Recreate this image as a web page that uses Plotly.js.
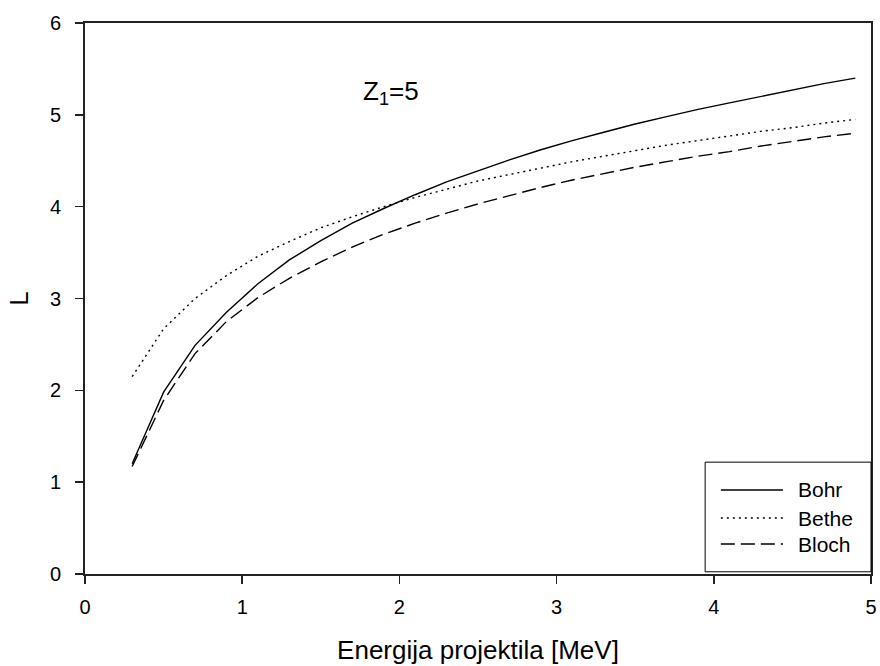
<!DOCTYPE html>
<html>
<head>
<meta charset="utf-8">
<script src="https://cdn.plot.ly/plotly-3.0.1.min.js"></script>
<style>html,body{margin:0;padding:0;background:#fff;}#chart{width:880px;height:666px;}</style>
</head>
<body>
<div id="chart"></div>
<script>
const energy = [0.3,0.5,0.7,0.9,1.1,1.3,1.5,1.7,1.9,2.1,2.3,2.5,2.7,2.9,3.1,3.3,3.5,3.7,3.9,4.1,4.3,4.5,4.7,4.9];
const bohr  = [1.20,1.98,2.49,2.85,3.16,3.42,3.63,3.82,3.98,4.13,4.27,4.39,4.51,4.62,4.72,4.81,4.90,4.98,5.06,5.13,5.20,5.27,5.34,5.40];
const bethe = [2.15,2.67,3.00,3.25,3.46,3.62,3.77,3.89,4.00,4.10,4.19,4.28,4.35,4.42,4.49,4.55,4.61,4.67,4.72,4.77,4.82,4.86,4.91,4.95];
const bloch = [1.17,1.89,2.40,2.75,3.01,3.22,3.40,3.56,3.70,3.82,3.93,4.03,4.12,4.21,4.29,4.36,4.43,4.49,4.55,4.60,4.66,4.71,4.76,4.80];
const seriesNames = ['Bohr','Bethe','Bloch'];
const dashes = ['solid','2px,4px','14px,6px'];
const xTicks = [0,1,2,3,4,5];
const yTicks = [0,1,2,3,4,5,6];

const fam = 'Liberation Sans, Arial, sans-serif';
const tickFont = {family:fam, size:20, color:'#000'};
const ys = [bohr, bethe, bloch];
const traces = ys.map((y,i)=>({
  x: energy, y: y, type:'scatter', mode:'lines', name: seriesNames[i],
  line:{color:'#000', width:1.4, dash:dashes[i]}, showlegend:false
}));

// custom legend (paper coords)
const shapes = [{type:'rect', xref:'paper', yref:'paper', x0:0.789, x1:1, y0:0.004, y1:0.203,
  line:{color:'#000', width:1}, fillcolor:'#fff', layer:'above'}];
const annotations = [{
  xref:'x', yref:'y', x:1.945, y:5.24, text:'Z<sub>1</sub>=5', showarrow:false,
  font:{family:fam, size:26, color:'#000'}
}];
const legY = [0.1525, 0.1016, 0.0544];
seriesNames.forEach((n,i)=>{
  shapes.push({type:'line', xref:'paper', yref:'paper', x0:0.809, x1:0.888, y0:legY[i], y1:legY[i],
    line:{color:'#000', width:1.4, dash:dashes[i]}, layer:'above'});
  annotations.push({xref:'paper', yref:'paper', x:0.905, y:legY[i], xanchor:'left', yanchor:'middle',
    text:n, showarrow:false, font:{family:fam, size:21, color:'#000'}});
});

const axisCommon = {showgrid:false, zeroline:false, showline:true, mirror:true, linecolor:'#222', linewidth:1.8,
  ticks:'outside', ticklen:8, tickwidth:1.5, tickcolor:'#222', tickfont:tickFont};
const layout = {
  width:880, height:666,
  margin:{l:85, r:9, t:23, b:92},
  paper_bgcolor:'#fff', plot_bgcolor:'#fff',
  font: tickFont,
  xaxis:Object.assign({range:[0,5], tickvals:xTicks, ticktext:xTicks.map(String), ticklabelstandoff:6,
    title:{text:'Energija projektila [MeV]', font:{family:fam, size:26, color:'#000'}, standoff:24}}, axisCommon),
  yaxis:Object.assign({range:[0,6], tickvals:yTicks, ticktext:yTicks.map(String), ticklabelstandoff:10,
    title:{text:'L', font:{family:fam, size:26, color:'#000'}, standoff:14}}, axisCommon),
  shapes: shapes, annotations: annotations, showlegend:false
};
Plotly.newPlot('chart', traces, layout, {displayModeBar:false, staticPlot:true});
</script>
</body>
</html>
